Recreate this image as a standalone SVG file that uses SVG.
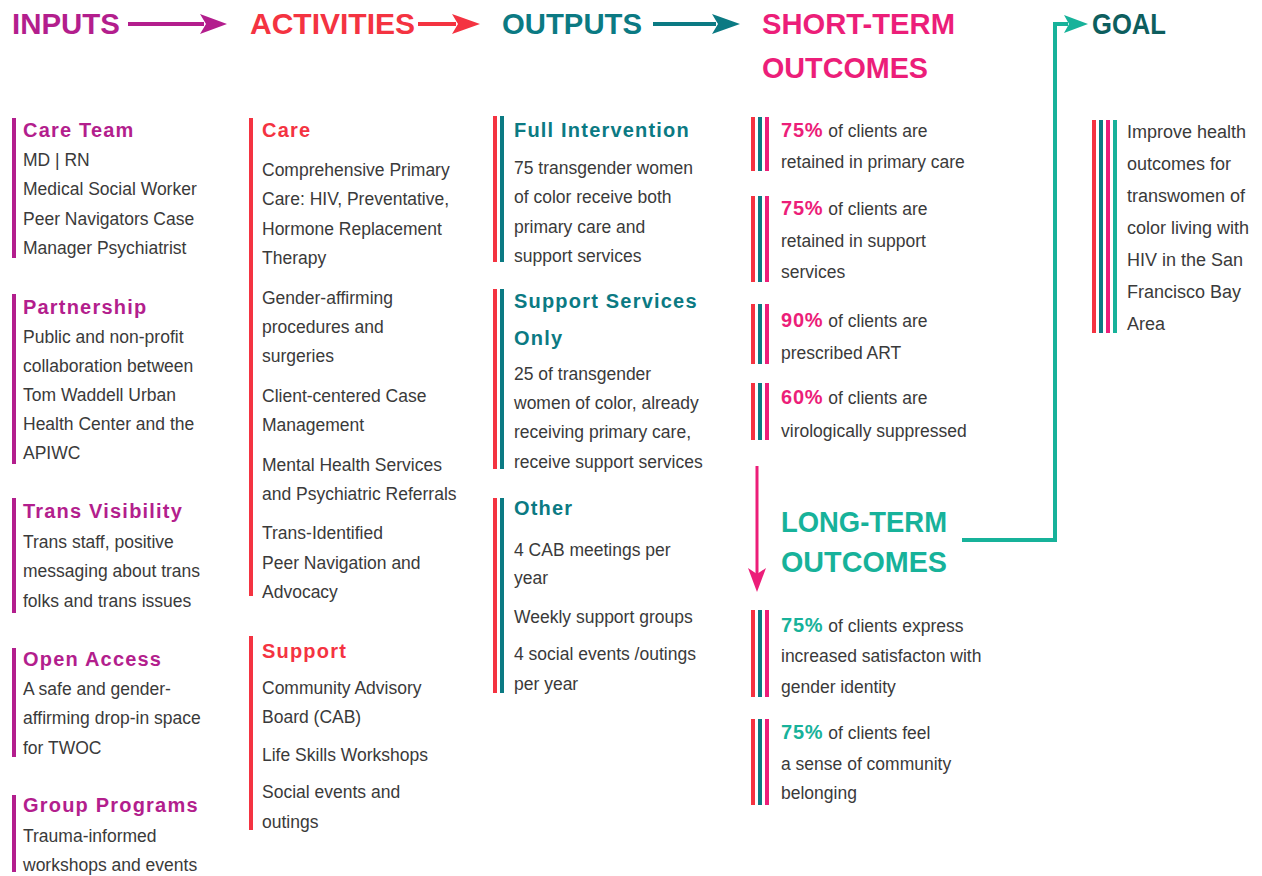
<svg xmlns="http://www.w3.org/2000/svg" width="1262" height="876" viewBox="0 0 1262 876">
<style>
text{font-family:"Liberation Sans",Arial,sans-serif}
.h{font-size:30px;font-weight:bold}
.s{font-size:20px;font-weight:bold;letter-spacing:1.2px}
.t{font-size:17.5px;fill:#3a3a3a}
.g{font-size:18px;fill:#3a3a3a}
.pct{font-size:20px;font-weight:bold;letter-spacing:0.8px}
.pu{fill:#B31E8D}.rd{fill:#F43341}.tl{fill:#0B7A83}.pk{fill:#EC1E79}.gn{fill:#17B29A}.dk{fill:#0D5E5E}
</style>
<rect width="1262" height="876" fill="#ffffff"/>

<g id="connectors">
  <line x1="128" y1="24" x2="204" y2="24" stroke="#B31E8D" stroke-width="4"/>
  <polygon points="200,14 227,24 200,34 206,24" fill="#B31E8D"/>
  <line x1="418" y1="24" x2="456" y2="24" stroke="#F43341" stroke-width="4"/>
  <polygon points="452,14 480,24 452,34 458,24" fill="#F43341"/>
  <line x1="653" y1="24" x2="716" y2="24" stroke="#0B7A83" stroke-width="4"/>
  <polygon points="712,14 740,24 712,34 718,24" fill="#0B7A83"/>
  <line x1="757" y1="466" x2="757" y2="576" stroke="#EC1E79" stroke-width="3"/>
  <polygon points="748,568 757,592 766,568 757,574" fill="#EC1E79"/>
  <polyline points="962,540 1055,540 1055,24 1068,24" fill="none" stroke="#17B29A" stroke-width="4"/>
  <polygon points="1064,15 1088,24 1064,33 1069,24" fill="#17B29A"/>
</g>

<g id="header-inputs"><text class="h pu" x="12" y="34" textLength="108" lengthAdjust="spacingAndGlyphs">INPUTS</text></g>
<g id="header-activities"><text class="h rd" x="250" y="34" textLength="165" lengthAdjust="spacingAndGlyphs">ACTIVITIES</text></g>
<g id="header-outputs"><text class="h tl" x="502" y="34" textLength="140" lengthAdjust="spacingAndGlyphs">OUTPUTS</text></g>
<g id="header-short-term"><text class="h pk" x="762" y="34" textLength="193" lengthAdjust="spacingAndGlyphs">SHORT-TERM</text><text class="h pk" x="762" y="78" textLength="166" lengthAdjust="spacingAndGlyphs">OUTCOMES</text></g>
<g id="header-goal"><text class="h dk" x="1092" y="34" textLength="74" lengthAdjust="spacingAndGlyphs">GOAL</text></g>
<g id="header-long-term"><text class="h gn" x="781" y="532" textLength="166" lengthAdjust="spacingAndGlyphs">LONG-TERM</text><text class="h gn" x="781" y="572" textLength="166" lengthAdjust="spacingAndGlyphs">OUTCOMES</text></g>

<!-- INPUTS -->
<g id="in-care-team">
  <rect x="12" y="118" width="4" height="140" class="pu"/>
  <text class="s pu" x="23" y="137">Care Team</text>
  <text class="t" x="23" y="166">MD | RN</text>
  <text class="t" x="23" y="195">Medical Social Worker</text>
  <text class="t" x="23" y="225">Peer Navigators Case</text>
  <text class="t" x="23" y="254">Manager Psychiatrist</text>
</g>
<g id="in-partnership">
  <rect x="12" y="294" width="4" height="170" class="pu"/>
  <text class="s pu" x="23" y="314">Partnership</text>
  <text class="t" x="23" y="343">Public and non-profit</text>
  <text class="t" x="23" y="372">collaboration between</text>
  <text class="t" x="23" y="401">Tom Waddell Urban</text>
  <text class="t" x="23" y="430">Health Center and the</text>
  <text class="t" x="23" y="459">APIWC</text>
</g>
<g id="in-trans-visibility">
  <rect x="12" y="498" width="4" height="115" class="pu"/>
  <text class="s pu" x="23" y="518">Trans Visibility</text>
  <text class="t" x="23" y="548">Trans staff, positive</text>
  <text class="t" x="23" y="577">messaging about trans</text>
  <text class="t" x="23" y="607">folks and trans issues</text>
</g>
<g id="in-open-access">
  <rect x="12" y="648" width="4" height="109" class="pu"/>
  <text class="s pu" x="23" y="666">Open Access</text>
  <text class="t" x="23" y="695">A safe and gender-</text>
  <text class="t" x="23" y="724">affirming drop-in space</text>
  <text class="t" x="23" y="754">for TWOC</text>
</g>
<g id="in-group-programs">
  <rect x="12" y="795" width="4" height="77" class="pu"/>
  <text class="s pu" x="23" y="812">Group Programs</text>
  <text class="t" x="23" y="842">Trauma-informed</text>
  <text class="t" x="23" y="871">workshops and events</text>
</g>

<!-- ACTIVITIES -->
<g id="act-care">
  <rect x="249" y="118" width="4" height="478" class="rd"/>
  <text class="s rd" x="262" y="137">Care</text>
  <text class="t" x="262" y="176">Comprehensive Primary</text>
  <text class="t" x="262" y="205">Care: HIV, Preventative,</text>
  <text class="t" x="262" y="235">Hormone Replacement</text>
  <text class="t" x="262" y="264">Therapy</text>
  <text class="t" x="262" y="304">Gender-affirming</text>
  <text class="t" x="262" y="333">procedures and</text>
  <text class="t" x="262" y="362">surgeries</text>
  <text class="t" x="262" y="402">Client-centered Case</text>
  <text class="t" x="262" y="431">Management</text>
  <text class="t" x="262" y="471">Mental Health Services</text>
  <text class="t" x="262" y="500">and Psychiatric Referrals</text>
  <text class="t" x="262" y="539">Trans-Identified</text>
  <text class="t" x="262" y="569">Peer Navigation and</text>
  <text class="t" x="262" y="598">Advocacy</text>
</g>
<g id="act-support">
  <rect x="249" y="636" width="4" height="194" class="rd"/>
  <text class="s rd" x="262" y="658">Support</text>
  <text class="t" x="262" y="694">Community Advisory</text>
  <text class="t" x="262" y="723">Board (CAB)</text>
  <text class="t" x="262" y="761">Life Skills Workshops</text>
  <text class="t" x="262" y="798">Social events and</text>
  <text class="t" x="262" y="828">outings</text>
</g>

<!-- OUTPUTS -->
<g id="out-full">
  <rect x="493" y="116" width="4" height="146" class="rd"/>
  <rect x="500" y="116" width="4" height="146" class="tl"/>
  <text class="s tl" x="514" y="137">Full Intervention</text>
  <text class="t" x="514" y="174">75 transgender women</text>
  <text class="t" x="514" y="203">of color receive both</text>
  <text class="t" x="514" y="233">primary care and</text>
  <text class="t" x="514" y="262">support services</text>
</g>
<g id="out-support-only">
  <rect x="493" y="289" width="4" height="180" class="rd"/>
  <rect x="500" y="289" width="4" height="180" class="tl"/>
  <text class="s tl" x="514" y="308">Support Services</text>
  <text class="s tl" x="514" y="345">Only</text>
  <text class="t" x="514" y="380">25 of transgender</text>
  <text class="t" x="514" y="409">women of color, already</text>
  <text class="t" x="514" y="438">receiving primary care,</text>
  <text class="t" x="514" y="468">receive support services</text>
</g>
<g id="out-other">
  <rect x="493" y="498" width="4" height="195" class="rd"/>
  <rect x="500" y="498" width="4" height="195" class="tl"/>
  <text class="s tl" x="514" y="515">Other</text>
  <text class="t" x="514" y="556">4 CAB meetings per</text>
  <text class="t" x="514" y="584">year</text>
  <text class="t" x="514" y="623">Weekly support groups</text>
  <text class="t" x="514" y="660">4 social events /outings</text>
  <text class="t" x="514" y="690">per year</text>
</g>

<!-- SHORT-TERM OUTCOMES -->
<g id="st-1">
  <rect x="751" y="117" width="4" height="54" class="rd"/>
  <rect x="758" y="117" width="4" height="54" class="tl"/>
  <rect x="765" y="117" width="4" height="54" class="pk"/>
  <text class="t" x="781" y="137"><tspan class="pct pk">75%</tspan> of clients are</text>
  <text class="t" x="781" y="168">retained in primary care</text>
</g>
<g id="st-2">
  <rect x="751" y="196" width="4" height="86" class="rd"/>
  <rect x="758" y="196" width="4" height="86" class="tl"/>
  <rect x="765" y="196" width="4" height="86" class="pk"/>
  <text class="t" x="781" y="215"><tspan class="pct pk">75%</tspan> of clients are</text>
  <text class="t" x="781" y="247">retained in support</text>
  <text class="t" x="781" y="278">services</text>
</g>
<g id="st-3">
  <rect x="751" y="304" width="4" height="60" class="rd"/>
  <rect x="758" y="304" width="4" height="60" class="tl"/>
  <rect x="765" y="304" width="4" height="60" class="pk"/>
  <text class="t" x="781" y="327"><tspan class="pct pk">90%</tspan> of clients are</text>
  <text class="t" x="781" y="359">prescribed ART</text>
</g>
<g id="st-4">
  <rect x="751" y="383" width="4" height="57" class="rd"/>
  <rect x="758" y="383" width="4" height="57" class="tl"/>
  <rect x="765" y="383" width="4" height="57" class="pk"/>
  <text class="t" x="781" y="404"><tspan class="pct pk">60%</tspan> of clients are</text>
  <text class="t" x="781" y="437">virologically suppressed</text>
</g>

<!-- LONG-TERM OUTCOMES -->
<g id="lt-1">
  <rect x="751" y="610" width="4" height="87" class="rd"/>
  <rect x="758" y="610" width="4" height="87" class="tl"/>
  <rect x="765" y="610" width="4" height="87" class="pk"/>
  <text class="t" x="781" y="632"><tspan class="pct gn">75%</tspan> of clients express</text>
  <text class="t" x="781" y="662">increased satisfacton with</text>
  <text class="t" x="781" y="693">gender identity</text>
</g>
<g id="lt-2">
  <rect x="751" y="719" width="4" height="86" class="rd"/>
  <rect x="758" y="719" width="4" height="86" class="tl"/>
  <rect x="765" y="719" width="4" height="86" class="pk"/>
  <text class="t" x="781" y="739"><tspan class="pct gn">75%</tspan> of clients feel</text>
  <text class="t" x="781" y="770">a sense of community</text>
  <text class="t" x="781" y="799">belonging</text>
</g>

<!-- GOAL -->
<g id="goal">
  <rect x="1092" y="120" width="4" height="213" class="rd"/>
  <rect x="1099" y="120" width="4" height="213" class="tl"/>
  <rect x="1106" y="120" width="4" height="213" class="pk"/>
  <rect x="1113" y="120" width="4" height="213" class="gn"/>
  <text class="g" x="1127" y="138">Improve health</text>
  <text class="g" x="1127" y="170">outcomes for</text>
  <text class="g" x="1127" y="202">transwomen of</text>
  <text class="g" x="1127" y="234">color living with</text>
  <text class="g" x="1127" y="266">HIV in the San</text>
  <text class="g" x="1127" y="298">Francisco Bay</text>
  <text class="g" x="1127" y="330">Area</text>
</g>
</svg>
